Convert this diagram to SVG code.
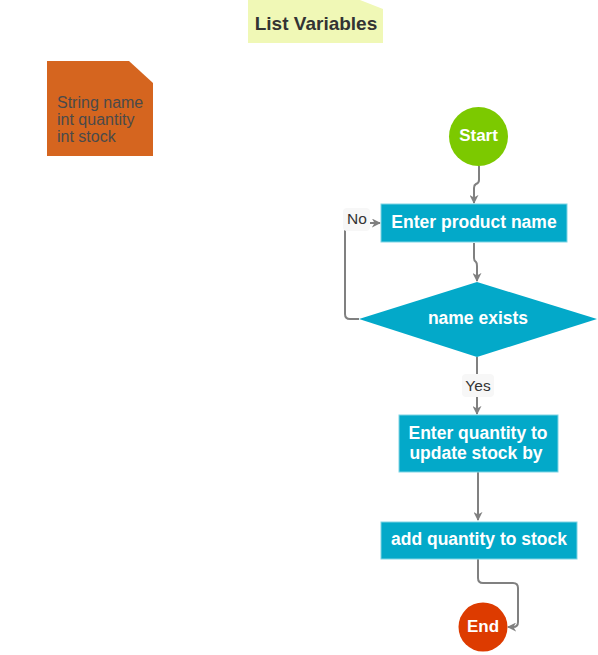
<svg xmlns="http://www.w3.org/2000/svg" width="598" height="655" viewBox="0 0 598 655">
<defs>
<style>
.lbl{font-family:"Liberation Sans",Arial,sans-serif;font-weight:bold;font-size:17.5px;fill:#fff;text-anchor:middle;dominant-baseline:central}
.conn{fill:none;stroke:#808080;stroke-width:2}
.box{fill:#03a9c9;stroke:#7fd4e4;stroke-width:1}
.tag{fill:#f7f7f7}
.tagt{font-family:"Liberation Sans",Arial,sans-serif;font-size:15.5px;fill:#333;text-anchor:middle;dominant-baseline:central}
</style>
<marker id="arr" viewBox="0 0 10 10" refX="9" refY="5" markerWidth="9" markerHeight="9" orient="auto" markerUnits="userSpaceOnUse">
<path d="M0,0 L10,5 L0,10 L3,5 Z" fill="#808080"/>
</marker>
</defs>
<rect width="598" height="655" fill="#fff"/>
<g id="note-list">
<path d="M248,0 L360,0 L383,9 L383,43 L248,43 Z" fill="#f0f8b6"/>
<text x="316" y="23" style="font-family:'Liberation Sans',Arial,sans-serif;font-weight:bold;font-size:19px;fill:#333;text-anchor:middle;dominant-baseline:central">List Variables</text>
</g>
<g id="note-vars">
<path d="M47,61 L129,61 L153,83 L153,156 L47,156 Z" fill="#d5651f"/>
<text style="font-family:'Liberation Sans',Arial,sans-serif;font-size:16px;fill:#4a4a4a">
<tspan x="57" y="108">String name</tspan>
<tspan x="57" y="125">int quantity</tspan>
<tspan x="57" y="142">int stock</tspan>
</text>
</g>
<g id="connectors">
<path class="conn" d="M479,166 L479,180 Q479,183 476,184 Q474,185 474,188 L474,203" marker-end="url(#arr)"/>
<path class="conn" d="M474,243 L474,258 Q474,261 476,262 Q477,263 477,266 L477,281" marker-end="url(#arr)"/>
<path class="conn" d="M359,319 L350,319 Q345,319 345,314 L345,223 L380,223" marker-end="url(#arr)"/>
<path class="conn" d="M477,357 L477,414" marker-end="url(#arr)"/>
<path class="conn" d="M478,472 L478,520" marker-end="url(#arr)"/>
<path class="conn" d="M478,559 L478,578 Q478,583 483,583 L513,583 Q518,583 518,588 L518,622 Q518,627 513,627 L508,627" marker-end="url(#arr)"/>
<rect class="tag" x="343" y="208" width="27" height="23" rx="4"/>
<text class="tagt" x="357" y="218">No</text>
<rect class="tag" x="462" y="374" width="32" height="23" rx="4"/>
<text class="tagt" x="478" y="385">Yes</text>
</g>
<g id="start">
<circle cx="478.5" cy="136.5" r="29.5" fill="#7cc900"/>
<text class="lbl" x="478.5" y="135" style="font-size:17px">Start</text>
</g>
<g id="enter-name">
<rect class="box" x="381" y="204" width="186" height="38"/>
<text class="lbl" x="474" y="222">Enter product name</text>
</g>
<g id="decision">
<path d="M477,282 L597,319 L477,357 L359,319 Z" fill="#03a9c9"/>
<text class="lbl" x="478" y="318">name exists</text>
</g>
<g id="enter-qty">
<rect class="box" x="399" y="415" width="159" height="57"/>
<text class="lbl" x="478" y="433">Enter quantity to</text>
<text class="lbl" x="476" y="453">update stock by</text>
</g>
<g id="add-qty">
<rect class="box" x="381" y="522" width="196" height="37"/>
<text class="lbl" x="479" y="539">add quantity to stock</text>
</g>
<g id="end">
<circle cx="483" cy="627" r="24.5" fill="#dd3b00"/>
<text class="lbl" x="483" y="626" style="font-size:17px">End</text>
</g>
</svg>
